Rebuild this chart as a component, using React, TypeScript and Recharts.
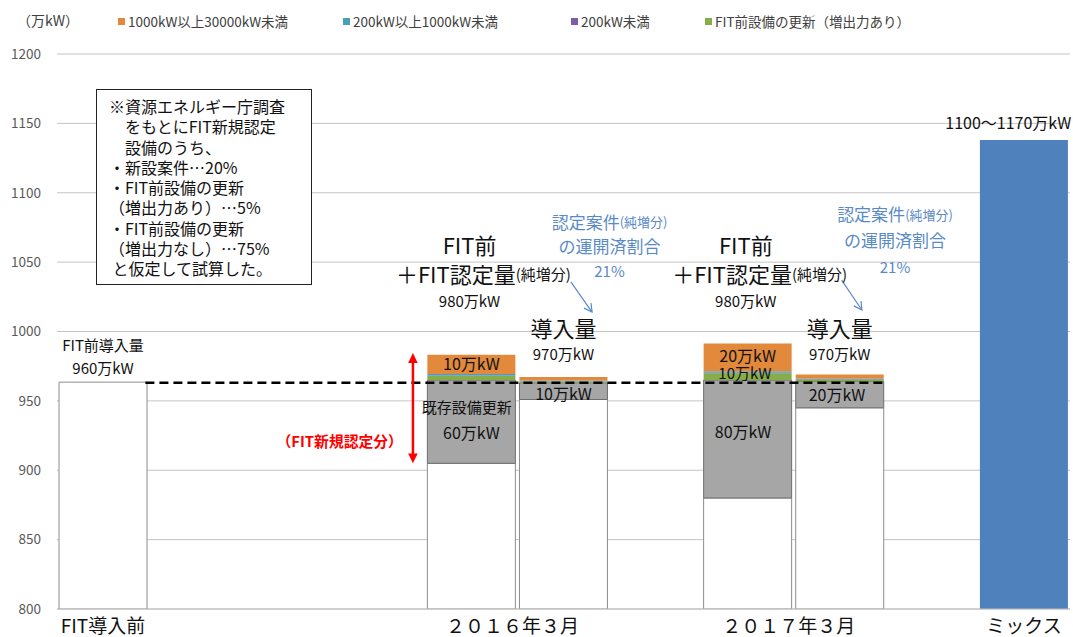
import React from "react";
import {
  BarChart,
  Bar,
  XAxis,
  YAxis,
  CartesianGrid,
  ReferenceLine,
  ReferenceDot,
} from "recharts";

const FONT = '"Noto Sans CJK JP", "Noto Sans", sans-serif';

// 11 category slots, bars sit in a few of them
const slots = ["s0", "s1", "s2", "s3", "s4", "s5", "s6", "s7", "s8", "s9", "s10"];
const tickLabels = ["FIT導入前", "", "", "", "２０１６年３月", "", "", "２０１７年３月", "", "", "ミックス"];
const pairedTicks = [4, 7];

// 万kW
const baseValues = [963.5, 0, 0, 0, 905, 951, 0, 880, 945, 0, 0];
const existingValues = [0, 0, 0, 0, 60, 12, 0, 85, 19, 0, 0];
const upgradeValues = [0, 0, 0, 0, 3, 1, 0, 5, 1, 0, 0];
const under200Values = [0, 0, 0, 0, 0.3, 0.2, 0, 0.3, 0.2, 0, 0];
const mid200Values = [0, 0, 0, 0, 1, 0.5, 0, 1, 0.8, 0, 0];
const large1000Values = [0, 0, 0, 0, 14, 2.5, 0, 20, 3, 0, 0];
const mixValues = [0, 0, 0, 0, 0, 0, 0, 0, 0, 0, 1138];
const yTicks = [800, 850, 900, 950, 1000, 1050, 1100, 1150, 1200];
const preFitLine = 963;

const legendItems = [
  { name: "1000kW以上30000kW未満", color: "#E2893C", left: 118 },
  { name: "200kW以上1000kW未満", color: "#4AA0B8", left: 343 },
  { name: "200kW未満", color: "#7B5EA6", left: 571 },
  { name: "FIT前設備の更新（増出力あり）", color: "#86AD47", left: 705 },
];

const noteLines = [
  "※資源エネルギー庁調査",
  "　をもとにFIT新規認定",
  "　設備のうち、",
  "・新設案件…20%",
  "・FIT前設備の更新",
  "（増出力あり）…5%",
  "・FIT前設備の更新",
  "（増出力なし）…75%",
  " と仮定して試算した。",
];

const data = slots.map((slot, i) => ({
  slot,
  base: baseValues[i],
  existing: existingValues[i],
  upgrade: upgradeValues[i],
  under200: under200Values[i],
  mid200: mid200Values[i],
  large1000: large1000Values[i],
  mix: mixValues[i],
}));

const W = 1073;
const H = 637;
const M = { top: 54, right: 3, bottom: 0, left: 0 };
const Y_W = 57;
const BAND = (W - Y_W - M.right) / slots.length;
const BLUE_TXT = "#5A8AC6";

// annotation position in "slot units": u = 4.5 is the centre of slot 4
const slotOf = (u: number) => Math.max(0, Math.min(slots.length - 1, Math.floor(u)));
const offsetOf = (u: number) => (u - slotOf(u) - 0.5) * BAND;

function XTick(props: any) {
  const { x, y, payload } = props;
  const i = payload.index;
  const shift = pairedTicks.includes(i) ? 41 : 0;
  return (
    <text x={x + shift} y={y + 16} textAnchor="middle" fontSize={19} fill="#111" fontFamily={FONT}>
      {tickLabels[i]}
    </text>
  );
}

function label(key: string, u: number, v: number, content: React.ReactNode, size: number, color = "#111", weight = 400) {
  const dx = offsetOf(u);
  return (
    <ReferenceDot
      key={key}
      x={slots[slotOf(u)]}
      y={v}
      r={1}
      ifOverflow="visible"
      shape={(p: any) => (
        <text
          x={p.cx + dx}
          y={p.cy}
          textAnchor="middle"
          dominantBaseline="central"
          fontSize={size}
          fill={color}
          fontWeight={weight}
          fontFamily={FONT}
        >
          {content}
        </text>
      )}
    />
  );
}

type Drawer = (x1: number, y1: number, x2: number, y2: number) => React.ReactNode;

function seg(key: string, u1: number, v1: number, u2: number, v2: number, draw: Drawer) {
  const d1 = offsetOf(u1);
  const d2 = offsetOf(u2);
  return (
    <ReferenceLine
      key={key}
      segment={[
        { x: slots[slotOf(u1)], y: v1 },
        { x: slots[slotOf(u2)], y: v2 },
      ]}
      ifOverflow="visible"
      shape={(p: any) => <g>{draw(p.x1 + d1, p.y1, p.x2 + d2, p.y2)}</g>}
    />
  );
}

function arrow(color: string, width: number, both: boolean, filled: boolean): Drawer {
  return (x1, y1, x2, y2) => {
    const a = Math.atan2(y2 - y1, x2 - x1);
    const len = filled ? 11 : 9;
    const spread = filled ? 0.45 : 0.5;
    const head = (x: number, y: number, ang: number) => {
      const ax = x - len * Math.cos(ang - spread);
      const ay = y - len * Math.sin(ang - spread);
      const bx = x - len * Math.cos(ang + spread);
      const by = y - len * Math.sin(ang + spread);
      return filled ? (
        <polygon points={`${x},${y} ${ax},${ay} ${bx},${by}`} fill={color} />
      ) : (
        <polyline points={`${ax},${ay} ${x},${y} ${bx},${by}`} fill="none" stroke={color} strokeWidth={width} />
      );
    };
    const inset = filled ? len * 0.8 : 0;
    return (
      <>
        <line
          x1={both ? x1 + inset * Math.cos(a) : x1}
          y1={both ? y1 + inset * Math.sin(a) : y1}
          x2={x2 - inset * Math.cos(a)}
          y2={y2 - inset * Math.sin(a)}
          stroke={color}
          strokeWidth={width}
        />
        {head(x2, y2, a)}
        {both && head(x1, y1, a + Math.PI)}
      </>
    );
  };
}

const dashed: Drawer = (x1, y1, x2, y2) => (
  <line x1={x1} y1={y1} x2={x2} y2={y2} stroke="#000" strokeWidth={2.5} strokeDasharray="9 5" />
);

export default function App() {
  return (
    <div style={{ position: "absolute", left: 0, top: 0, width: W, height: H, background: "#fff", fontFamily: FONT }}>
      <div style={{ position: "absolute", left: 17, top: 10, fontSize: 14, color: "#404040" }}>（万kW）</div>
      {legendItems.map((it) => (
        <div
          key={it.name}
          style={{ position: "absolute", left: it.left, top: 11, fontSize: 13.5, color: "#404040", display: "flex", alignItems: "center", whiteSpace: "nowrap" }}
        >
          <span style={{ display: "inline-block", width: 7, height: 7, background: it.color, marginRight: 3 }} />
          {it.name}
        </div>
      ))}
      <BarChart width={W} height={H} data={data} margin={M} barCategoryGap={2}>
        <CartesianGrid vertical={false} stroke="#C4C4C4" />
        <XAxis
          dataKey="slot"
          height={28}
          axisLine={{ stroke: "#BFBFBF" }}
          tickLine={false}
          interval={0}
          tick={<XTick />}
        />
        <YAxis
          width={Y_W}
          domain={[800, 1200]}
          ticks={yTicks}
          allowDataOverflow
          axisLine={false}
          tickLine={false}
          tickMargin={10}
          tick={{ fontSize: 13.5, fill: "#595959", fontFamily: FONT }}
        />
        <Bar dataKey="base" stackId="a" fill="#FFFFFF" stroke="#8C8C8C" strokeWidth={1} isAnimationActive={false} />
        <Bar dataKey="existing" stackId="a" fill="#A6A6A6" stroke="#6E6E6E" strokeWidth={1} isAnimationActive={false} />
        <Bar dataKey="upgrade" stackId="a" fill="#86AD47" isAnimationActive={false} />
        <Bar dataKey="under200" stackId="a" fill="#7B5EA6" isAnimationActive={false} />
        <Bar dataKey="mid200" stackId="a" fill="#4AA0B8" isAnimationActive={false} />
        <Bar dataKey="large1000" stackId="a" fill="#E2893C" isAnimationActive={false} />
        <Bar dataKey="mix" stackId="a" fill="#4F81BD" isAnimationActive={false} />

        {seg("dash", 0.96, preFitLine, 8.99, preFitLine, dashed)}
        {seg("red-arrow", 3.865, 984.5, 3.865, 905, arrow("#FF0000", 2.5, true, true))}
        {seg("blue-a", 5.58, 1035.7, 5.81, 1014, arrow(BLUE_TXT, 1.2, false, false))}
        {seg("blue-b", 8.52, 1037, 8.74, 1015.5, arrow(BLUE_TXT, 1.2, false, false))}

        {label("pre1", 0.5, 990.5, "FIT前導入量", 15)}
        {label("pre2", 0.5, 974, "960万kW", 15)}

        {label("a1", 4.48, 1063, "FIT前", 22)}
        {label("a2", 4.63, 1042, <>＋FIT認定量<tspan fontSize={15}>(純増分)</tspan></>, 22)}
        {label("a3", 4.48, 1022.7, "980万kW", 15)}
        {label("a4", 6.0, 1079.6, <>認定案件<tspan fontSize={13}>(純増分)</tspan></>, 17, BLUE_TXT)}
        {label("a5", 6.0, 1062.3, "の運開済割合", 17, BLUE_TXT)}
        {label("a6", 6.0, 1044.3, "21%", 15, BLUE_TXT)}
        {label("a7", 5.5, 1003.2, "導入量", 22)}
        {label("a8", 5.5, 983.8, "970万kW", 15)}
        {label("a9", 4.5, 977.3, "10万kW", 16)}
        {label("a10", 4.45, 945.6, "既存設備更新", 15)}
        {label("a11", 4.5, 927.6, "60万kW", 16)}
        {label("a12", 5.5, 955.7, "10万kW", 16)}

        {label("b1", 7.48, 1063, "FIT前", 22)}
        {label("b2", 7.63, 1042, <>＋FIT認定量<tspan fontSize={15}>(純増分)</tspan></>, 22)}
        {label("b3", 7.48, 1022.7, "980万kW", 15)}
        {label("b4", 9.1, 1084.7, <>認定案件<tspan fontSize={13}>(純増分)</tspan></>, 17, BLUE_TXT)}
        {label("b5", 9.1, 1066, "の運開済割合", 17, BLUE_TXT)}
        {label("b6", 9.1, 1047.2, "21%", 15, BLUE_TXT)}
        {label("b7", 8.5, 1003.2, "導入量", 22)}
        {label("b8", 8.5, 983.8, "970万kW", 15)}
        {label("b9", 7.5, 983, "20万kW", 16)}
        {label("b10", 7.47, 970.3, "10万kW", 15)}
        {label("b11", 7.45, 928.3, "80万kW", 16)}
        {label("b12", 8.47, 955, "20万kW", 16)}

        {label("red", 3.07, 921.8, "（FIT新規認定分）", 14.8, "#FF0000", 700)}
        {label("mix", 10.33, 1151, "1100～1170万kW", 16)}
      </BarChart>
      <div
        style={{
          position: "absolute",
          left: 96,
          top: 89,
          width: 216,
          height: 196,
          border: "1.5px solid #222",
          background: "#fff",
          fontSize: 16,
          lineHeight: "20.3px",
          color: "#111",
          padding: "6px 0 0 12px",
          boxSizing: "border-box",
          whiteSpace: "pre",
        }}
      >
        {noteLines.join("\n")}
      </div>
    </div>
  );
}
